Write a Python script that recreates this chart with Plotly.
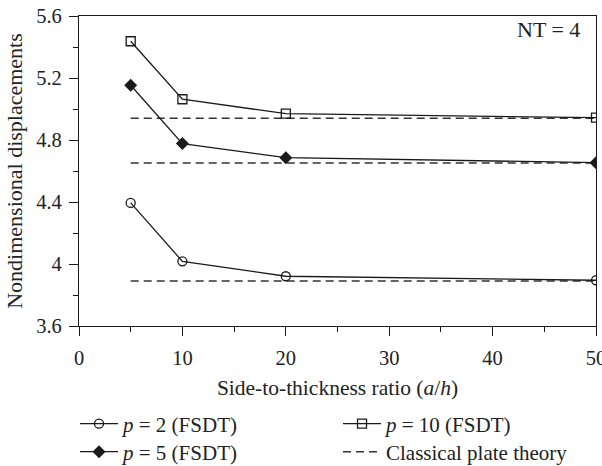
import plotly.graph_objects as go

ratio = [5, 10, 20, 50]
p2 = [4.394, 4.017, 3.921, 3.895]
p5 = [5.153, 4.777, 4.686, 4.654]
p10 = [5.437, 5.063, 4.970, 4.944]
cpt_x = [5, 50]
cpt_p2 = [3.89, 3.89]
cpt_p5 = [4.652, 4.652]
cpt_p10 = [4.94, 4.94]

FONT = "Liberation Serif"
LC = "#1a1a1a"
TC = "#222222"

fig = go.Figure()

for i, yy in enumerate([cpt_p2, cpt_p5, cpt_p10]):
    fig.add_trace(go.Scatter(
        x=cpt_x, y=yy, mode="lines",
        line=dict(color="#333333", width=1.5, dash="8px,5px"),
        name="Classical plate theory", showlegend=(i == 0), legend="legend4",
    ))

fig.add_trace(go.Scatter(
    x=ratio, y=p2, mode="lines+markers", name="<i>p</i> = 2 (FSDT)",
    line=dict(color=LC, width=1.3),
    marker=dict(symbol="circle-open", size=9, color=LC, line=dict(width=1.3)),
    legend="legend", showlegend=True,
))
fig.add_trace(go.Scatter(
    x=ratio, y=p5, mode="lines+markers", name="<i>p</i> = 5 (FSDT)",
    line=dict(color=LC, width=1.3),
    marker=dict(symbol="diamond", size=10, color=LC),
    legend="legend2",
))
fig.add_trace(go.Scatter(
    x=ratio, y=p10, mode="lines+markers", name="<i>p</i> = 10 (FSDT)",
    line=dict(color=LC, width=1.3),
    marker=dict(symbol="square-open", size=9, color=LC, line=dict(width=1.3)),
    legend="legend3",
))

axis_common = dict(
    showgrid=False, zeroline=False, showline=True, linecolor=LC, linewidth=1.2,
    mirror=True, ticks="outside", ticklen=9, tickwidth=1.2, tickcolor=LC,
    tickfont=dict(family=FONT, size=20.5, color=TC), automargin=False,
    ticklabeloverflow="allow",
)

leg_common = dict(xanchor="left", yanchor="middle", yref="container",
                  bgcolor="rgba(0,0,0,0)", itemwidth=38,
                  font=dict(family=FONT, size=21, color=TC))

fig.update_layout(
    width=602, height=466,
    showlegend=True,
    margin=dict(l=79, r=6, t=16, b=140),
    paper_bgcolor="white", plot_bgcolor="white",
    font=dict(family=FONT, size=20, color=TC),
    xaxis=dict(
        range=[0, 50], tickvals=[0, 10, 20, 30, 40, 50],
        minor=dict(ticks="outside", ticklen=5, tickwidth=1.2, tickcolor=LC, dtick=5, tick0=0),
        title=dict(text="Side-to-thickness ratio (<i>a</i>/<i>h</i>)", standoff=12,
                   font=dict(family=FONT, size=21.5, color=TC)),
        ticklabelstandoff=4,
        **axis_common,
    ),
    yaxis=dict(
        range=[3.6, 5.6], tickvals=[3.6, 4.0, 4.4, 4.8, 5.2, 5.6],
        ticktext=["3.6", "4", "4.4", "4.8", "5.2", "5.6"],
        minor=dict(ticks="outside", ticklen=5, tickwidth=1.2, tickcolor=LC, dtick=0.2, tick0=3.6),
        title=dict(text="Nondimensional displacements", standoff=7,
                   font=dict(family=FONT, size=22, color=TC)),
        ticklabelstandoff=3,
        **axis_common,
    ),
    legend=dict(x=-0.0077, y=1 - 424 / 466, **leg_common),
    legend2=dict(x=-0.0077, y=1 - 452 / 466, **leg_common),
    legend3=dict(x=0.501, y=1 - 424 / 466, **leg_common),
    legend4=dict(x=0.501, y=1 - 452 / 466, **leg_common),
    annotations=[dict(
        x=0.973, y=0.955, xref="paper", yref="paper", xanchor="right", yanchor="middle",
        text="NT = 4", showarrow=False, font=dict(family=FONT, size=22, color=TC),
    )],
)

fig.write_html("out.html")
